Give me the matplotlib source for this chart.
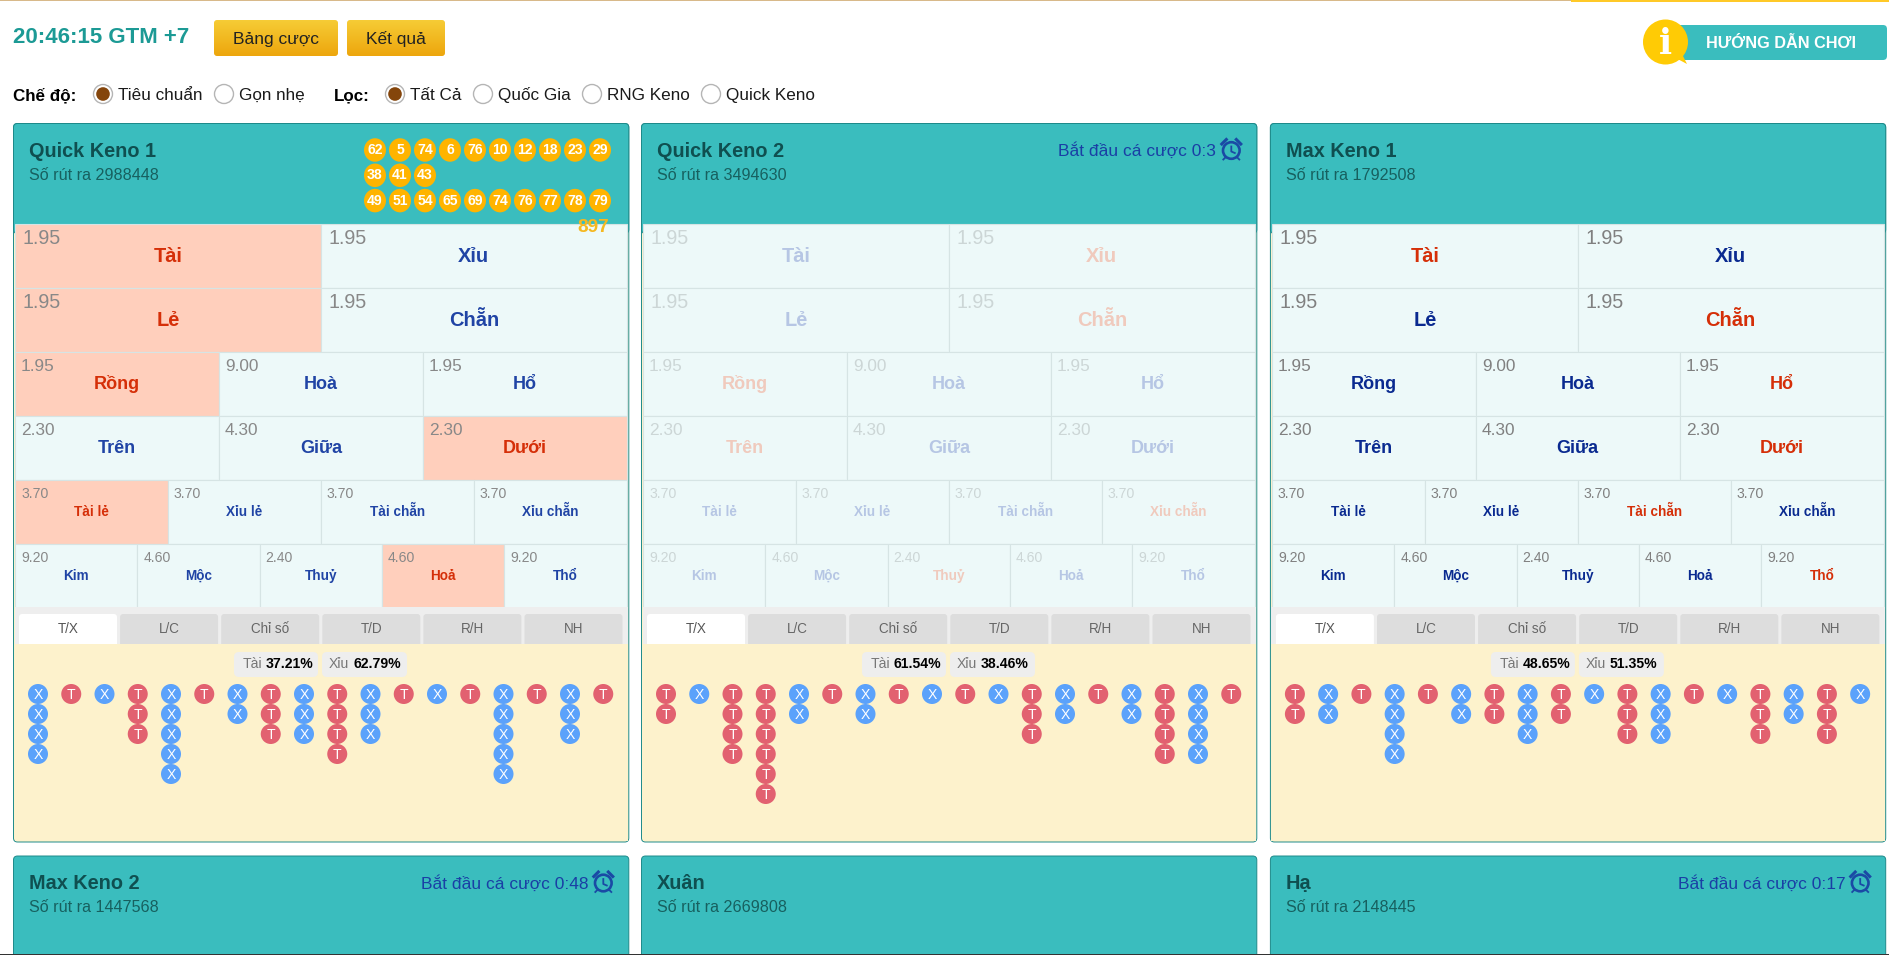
import numpy as np
import matplotlib
matplotlib.use('Agg')
import matplotlib.pyplot as plt
from matplotlib.patches import Circle, Ellipse, FancyBboxPatch, Rectangle, Polygon

plt.rcParams['font.family'] = ['Liberation Sans', 'DejaVu Sans']

# card text
card_names = ['Quick Keno 1', 'Quick Keno 2', 'Max Keno 1', 'Max Keno 2', 'Xuân', 'Hạ']
draw_ids = ['2988448', '3494630', '1792508', '1447568', '2669808', '2148445']
timers = [None, 'Bắt đầu cá cược 0:3', None, 'Bắt đầu cá cược 0:48', None, 'Bắt đầu cá cược 0:17']

# betting grid, one list per row
row_labels = [['Tài', 'Xỉu'], ['Lẻ', 'Chẵn'], ['Rồng', 'Hoà', 'Hổ'], ['Trên', 'Giữa', 'Dưới'],
              ['Tài lẻ', 'Xỉu lẻ', 'Tài chẵn', 'Xỉu chẵn'], ['Kim', 'Mộc', 'Thuỷ', 'Hoả', 'Thổ']]
row_odds = [['1.95', '1.95'], ['1.95', '1.95'], ['1.95', '9.00', '1.95'], ['2.30', '4.30', '2.30'],
            ['3.70', '3.70', '3.70', '3.70'], ['9.20', '4.60', '2.40', '4.60', '9.20']]

# labels in red per card, card 1 also has them highlighted
red_card1 = ['Tài', 'Lẻ', 'Rồng', 'Dưới', 'Tài lẻ', 'Hoả']
red_card2 = ['Xỉu', 'Chẵn', 'Rồng', 'Trên', 'Xỉu chẵn', 'Thuỷ']
red_card3 = ['Tài', 'Chẵn', 'Hổ', 'Dưới', 'Tài chẵn', 'Thổ']

tab_names = ['T/X', 'L/C', 'Chỉ số', 'T/D', 'R/H', 'NH']

tai_pct = ['37.21%', '61.54%', '48.65%']
xiu_pct = ['62.79%', '38.46%', '51.35%']

# road columns: letter and how many in a row
road1_side = ['X', 'T', 'X', 'T', 'X', 'T', 'X', 'T', 'X', 'T', 'X', 'T', 'X', 'T', 'X', 'T', 'X', 'T']
road1_len = [4, 1, 1, 3, 5, 1, 2, 3, 3, 4, 3, 1, 1, 1, 5, 1, 3, 1]
road2_side = ['T', 'X', 'T', 'T', 'X', 'T', 'X', 'T', 'X', 'T', 'X', 'T', 'X', 'T', 'X', 'T', 'X', 'T']
road2_len = [2, 1, 4, 6, 2, 1, 2, 1, 1, 1, 1, 3, 2, 1, 2, 4, 4, 1]
road3_side = ['T', 'X', 'T', 'X', 'T', 'X', 'T', 'X', 'T', 'X', 'T', 'X', 'T', 'X', 'T', 'X', 'T', 'X']
road3_len = [2, 2, 1, 4, 1, 2, 2, 3, 2, 1, 3, 3, 1, 1, 3, 2, 3, 1]

# drawn numbers on card 1
balls_row1 = [62, 5, 74, 6, 76, 10, 12, 18, 23, 29]
balls_row2 = [38, 41, 43]
balls_row3 = [49, 51, 54, 65, 69, 74, 76, 77, 78, 79]
ball_total = '897'

TEAL = '#3abdbe'
EDGE = '#1d8a8a'
CELL = '#edf9f9'
LINE = '#d6e4e4'
HILITE = '#ffcfbc'
CARD_W = 615.3
CARD_X = [13.5, 641.5, 1270.4]

fig = plt.figure(figsize=(18.89, 9.55), dpi=100)
ax = fig.add_axes([0, 0, 1, 1])
ax.axis('off')


def txt(x, y, s, size, color='black', weight='normal', ha='left', zorder=6):
    # y is the middle of the capital letters, size is in pixels
    ax.text(x, y + 0.36 * size, s, fontsize=size * 0.72, color=color, weight=weight,
            ha=ha, va='baseline', zorder=zorder)


def rbox(x0, y0, x1, y1, face, edge='none', r=4, lw=0.7, zorder=2):
    p = FancyBboxPatch((x0 + r, y0 + r), x1 - x0 - 2 * r, y1 - y0 - 2 * r,
                       boxstyle='round,pad=%g,rounding_size=%g' % (r, r),
                       facecolor=face, edgecolor=edge, lw=lw, zorder=zorder)
    ax.add_patch(p)
    return p


def yellow_button(x0, y0, x1, y1, label):
    p = rbox(x0, y0, x1, y1, 'none', 'none', r=3, zorder=3)
    grad = np.linspace(0, 1, 64).reshape(-1, 1)
    top = np.array([0.965, 0.80, 0.21])
    bot = np.array([0.93, 0.65, 0.05])
    im = ax.imshow(top + (bot - top) * grad[:, :, None], extent=(x0, x1, y1, y0),
                   aspect='auto', zorder=2)
    im.set_clip_path(p)
    txt((x0 + x1) / 2, (y0 + y1) / 2 - 0.5, label, 17.4, '#222222', ha='center')


def radio(x, y, label, on=False):
    ax.add_patch(Circle((x, y), 9.5, facecolor='white', edgecolor='#b5b5b5', lw=1, zorder=3))
    if on:
        ax.add_patch(Circle((x, y), 6.8, facecolor='#84450b', edgecolor='none', zorder=4))
    txt(x + 15, y, label, 17.1, '#1a1a1a')


def alarm(x, y, color='#1a4aa5'):
    ax.add_patch(Circle((x, y + 1), 8.3, facecolor='none', edgecolor=color, lw=1.9, zorder=6))
    ax.plot([x, x, x + 3.5], [y - 3, y + 2, y + 3.5], color=color, lw=1.3, zorder=6)
    ax.plot([x - 9.5, x - 5], [y - 5.5, y - 10], color=color, lw=2.2, zorder=6)
    ax.plot([x + 9.5, x + 5], [y - 5.5, y - 10], color=color, lw=2.2, zorder=6)
    ax.plot([x - 6, x - 8], [y + 8, y + 10], color=color, lw=1.3, zorder=6)
    ax.plot([x + 6, x + 8], [y + 8, y + 10], color=color, lw=1.3, zorder=6)


def header(x, top, i):
    rbox(x, top, x + CARD_W, top + 110, TEAL, EDGE, zorder=2)
    txt(x + 15.5, top + 26, card_names[i], 19.9, '#0f4f50', 'bold')
    txt(x + 15.5, top + 50.5, 'Số rút ra ' + draw_ids[i], 16.1, '#17605f')
    if timers[i]:
        txt(x + CARD_W - 40.5, top + 26.5, timers[i], 17.4, '#1a3fa5', ha='right')
        alarm(x + CARD_W - 25.5, top + 26)


def grid(x, card):
    top = 224
    row_h = 64
    left = x + 1.5
    width = CARD_W - 3.5
    reds = [red_card1, red_card2, red_card3][card]
    blue = ['#2044a5', '#b6c6e4', '#0a2a90'][card]
    red = ['#d52f08', '#f0cabd', '#d52f08'][card]
    odd_col = ['#888888', '#ccd6d6', '#808080'][card]
    odd_size = [19.8, 19.8, 17.2, 17.2, 14, 14]
    lab_size = [20, 20, 18, 18, 13.5, 13.5]
    odd_pad = [8, 8, 6, 6, 6, 6]
    for r, labels in enumerate(row_labels):
        w = width / len(labels)
        y = top + r * row_h
        for c, lab in enumerate(labels):
            hit = card == 0 and lab in reds
            ax.add_patch(Rectangle((left + c * w, y), w, row_h, facecolor=HILITE if hit else CELL,
                                   edgecolor=LINE, lw=0.8, zorder=3))
            txt(left + c * w + odd_pad[r], y + 13, row_odds[r][c], odd_size[r], odd_col)
            txt(left + (c + 0.5) * w, y + 31, lab, lab_size[r], red if lab in reds else blue,
                'bold', ha='center')


def tabs(x):
    ax.add_patch(Rectangle((x + 1, 607), CARD_W - 2, 37, facecolor='#eeeeee', edgecolor='none', zorder=3))
    for n, name in enumerate(tab_names):
        x0 = x + 5.5 + n * 101.1
        rbox(x0, 614, x0 + 98, 648, 'white' if n == 0 else '#dddddd', r=3, zorder=3)
        txt(x0 + 49, 628, name, 13.5, '#555555' if n == 0 else '#666666', ha='center')
    ax.add_patch(Rectangle((x + 1, 644), CARD_W - 2, 197, facecolor='#fdf2cc', edgecolor='none', zorder=4))


def road(x, side, length):
    for col, (s, n) in enumerate(zip(side, length)):
        cx = x + 24.5 + col * 33.25
        for k in range(n):
            cy = 694 + k * 20
            ax.add_patch(Circle((cx, cy), 10, facecolor='#e26170' if s == 'T' else '#5ba2fb',
                                edgecolor='none', zorder=5))
            txt(cx, cy, s, 14, 'white', ha='center')


# page top
ax.add_patch(Rectangle((0, 0), 1889, 1.2, facecolor='#d8b98a', edgecolor='none', zorder=1))
ax.add_patch(Rectangle((1571, 0), 318, 2.5, facecolor='#ffc928', edgecolor='none', zorder=1))
txt(13, 35, '20:46:15 GTM +7', 22.3, '#1c9a95', 'bold')
yellow_button(214, 20, 338, 56, 'Bảng cược')
yellow_button(347, 20, 445, 56, 'Kết quả')

# guide button
rbox(1675, 25, 1887, 60, TEAL, r=4, zorder=2)
ax.add_patch(Ellipse((1665.5, 42), 45, 45, facecolor='#ffcb05', edgecolor='none', zorder=3))
ax.add_patch(Polygon([(1672, 56), (1687, 64), (1680, 50)], facecolor='#ffcb05', edgecolor='none', zorder=3))
ax.text(1665.5, 54, 'i', fontsize=25, color='white', weight='bold', family='DejaVu Serif',
        ha='center', va='baseline', zorder=4)
txt(1706, 42, 'HƯỚNG DẪN CHƠI', 16.2, 'white', 'bold')

# mode and filter row
txt(13, 94, 'Chế độ:', 17, 'black', 'bold')
radio(103, 94, 'Tiêu chuẩn', True)
radio(224, 94, 'Gọn nhẹ')
txt(333.5, 94, 'Lọc:', 17, 'black', 'bold')
radio(395, 94, 'Tất Cả', True)
radio(483, 94, 'Quốc Gia')
radio(592, 94, 'RNG Keno')
radio(711, 94, 'Quick Keno')

# first row of cards
roads = [(road1_side, road1_len), (road2_side, road2_len), (road3_side, road3_len)]
for i, x in enumerate(CARD_X):
    rbox(x, 123.5, x + CARD_W, 842, '#fdf2cc', EDGE, zorder=1)
    header(x, 123.5, i)
    grid(x, i)
    tabs(x)
    rbox(x + 220.5, 652, x + 304.5, 677, '#eeeeee', r=5, zorder=5)
    rbox(x + 308.5, 652, x + 393.5, 677, '#eeeeee', r=5, zorder=5)
    txt(x + 229.5, 663, 'Tài', 14, '#777777')
    txt(x + 252.5, 663, tai_pct[i], 14, 'black', 'bold')
    txt(x + 315.5, 663, 'Xỉu', 14, '#777777')
    txt(x + 339.5, 663, xiu_pct[i], 14, 'black', 'bold')
    road(x, *roads[i])

# card 1 balls
for row, balls in enumerate([balls_row1, balls_row2, balls_row3]):
    by = 149 + row * 25.3
    for n, b in enumerate(balls):
        bx = 375 + n * 25
        ax.add_patch(Ellipse((bx, by + 1), 22, 23.5, facecolor='#ffb400', edgecolor='none', zorder=5))
        txt(bx, by, str(b), 14, 'white', 'bold', ha='center')
txt(609, 225, ball_total, 19, '#f5b820', 'bold', ha='right', zorder=7)

# second row of cards, cut off by the window
for i, x in enumerate(CARD_X):
    header(x, 856, i + 3)
ax.add_patch(Rectangle((0, 954), 1889, 1, facecolor='#333333', edgecolor='none', zorder=8))

ax.set_xlim(0, 1889)
ax.set_ylim(955, 0)
fig.savefig('out.png', dpi=100, facecolor='white')
